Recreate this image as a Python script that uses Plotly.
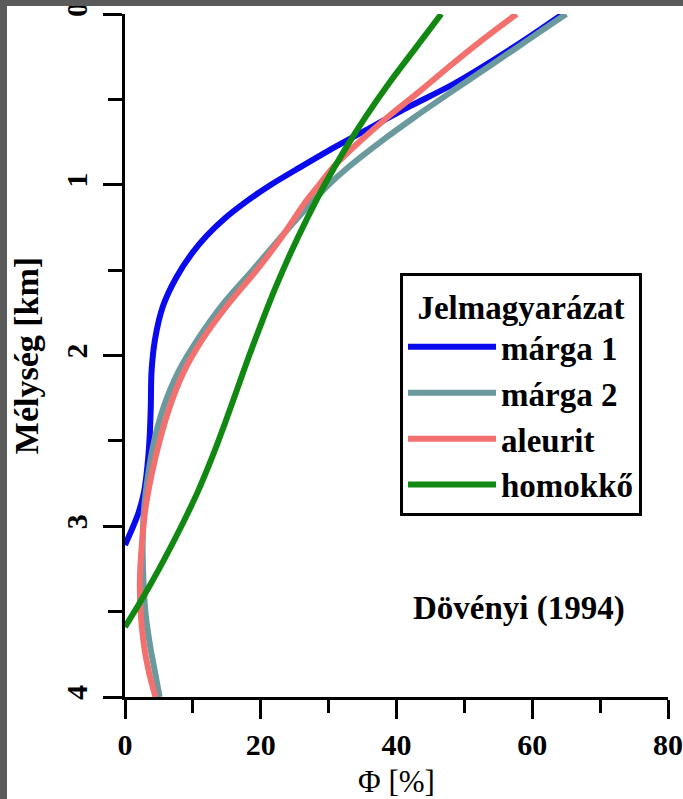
import plotly.graph_objects as go

# Porosity (%) versus depth (km) compaction curves
names = ["márga 1", "márga 2", "aleurit", "homokkő"]
colors = ["#0a0aee", "#6b9a9e", "#f2706e", "#118811"]

marga1_depth = [0.0, 0.17, 0.41, 0.54, 0.68, 0.8, 0.9, 1.0, 1.1, 1.2, 1.3, 1.4, 1.54,
                1.71, 1.91, 2.10, 2.30, 2.50, 2.65, 2.80, 2.92, 3.02, 3.11]
marga1_phi = [64.5, 58.2, 48.4, 42.0, 35.5, 30.0, 25.7, 21.5, 17.8, 14.6, 12.0, 9.9, 7.6,
              5.6, 4.4, 3.9, 3.8, 3.6, 3.3, 2.8, 2.0, 1.0, 0.0]

marga2_depth = [0.0, 0.1, 0.2, 0.3, 0.45, 0.6, 0.75, 0.9, 1.0, 1.1, 1.2, 1.3, 1.5,
                1.7, 1.9, 2.1, 2.3, 2.5, 2.7, 2.9, 3.1, 3.3, 3.5, 3.7, 3.85, 4.0]
marga2_phi = [65.0, 61.3, 57.6, 53.9, 48.3, 42.8, 37.6, 32.8, 30.0, 27.6, 25.3, 23.1, 18.8,
              14.4, 10.8, 7.8, 5.7, 4.3, 3.4, 2.8, 2.6, 2.7, 3.0, 3.7, 4.4, 5.1]

aleurit_depth = [0.0, 0.15, 0.3, 0.45, 0.6, 0.75, 0.9, 1.0, 1.1, 1.2, 1.3, 1.5,
                 1.7, 1.9, 2.1, 2.3, 2.5, 2.7, 2.9, 3.1, 3.3, 3.5, 3.7, 3.85, 4.0]
aleurit_phi = [57.7, 52.7, 48.0, 43.5, 38.8, 34.5, 30.6, 28.6, 26.6, 24.9, 23.2, 19.4,
               15.2, 11.5, 8.6, 6.6, 5.1, 3.9, 3.0, 2.5, 2.2, 2.3, 2.8, 3.5, 4.5]

homokko_depth = [0.0, 0.2, 0.4, 0.6, 0.8, 1.0, 1.2, 1.4, 1.6, 1.8, 2.0, 2.2, 2.4,
                 2.6, 2.8, 3.0, 3.2, 3.4, 3.59]
homokko_phi = [46.6, 42.8, 39.0, 35.5, 32.3, 29.4, 26.8, 24.4, 22.2, 20.2, 18.3, 16.5, 14.7,
               12.8, 10.7, 8.3, 5.7, 2.9, 0.0]

series = [
    (marga1_phi, marga1_depth),
    (marga2_phi, marga2_depth),
    (aleurit_phi, aleurit_depth),
    (homokko_phi, homokko_depth),
]

x_ticks = [0, 20, 40, 60, 80]
y_ticks = [0, 1, 2, 3, 4]
source_note = "Dövényi (1994)"

SERIF = "Liberation Serif"
W, H = 683, 799
ML, MR, MT, MB = 125, 15, 14, 102
PW, PH = W - ML - MR, H - MT - MB

fig = go.Figure()
for name, color, (phi, depth) in zip(names, colors, series):
    fig.add_trace(go.Scatter(
        x=phi, y=depth, mode="lines", name=name,
        line=dict(color=color, width=6, shape="spline", smoothing=0.8),
    ))

axis_common = dict(
    automargin=False,
    showline=True, linecolor="black", linewidth=3,
    ticks="outside", ticklen=19, tickwidth=3, tickcolor="black",
    showgrid=False, zeroline=False,
    tickfont=dict(family=SERIF, size=30, color="black", weight="bold"),
)

fig.update_xaxes(
    range=[0, 80], tickvals=x_ticks,
    minor=dict(dtick=10, tick0=0, ticks="outside", ticklen=13, tickwidth=3, tickcolor="black"),
    title=dict(text="Φ [%]", font=dict(family=SERIF, size=31, color="black"), standoff=18),
    **axis_common,
)
fig.update_yaxes(
    range=[4, 0], tickvals=y_ticks, tickangle=-90, ticklabelstandoff=4,
    minor=dict(dtick=0.5, tick0=0, ticks="outside", ticklen=14, tickwidth=3, tickcolor="black"),
    title=dict(text="Mélység [km]", font=dict(family=SERIF, size=34, color="black", weight="bold"),
               standoff=12),
    **axis_common,
)

fig.add_annotation(
    x=58, y=3.48, xref="x", yref="y", text=source_note, showarrow=False,
    font=dict(family=SERIF, size=33, color="black", weight="bold"),
)

# dark frame strips along the top and left edges of the page
gray = "#5a5a5a"
fig.add_shape(type="rect", xref="paper", yref="paper", layer="above",
              x0=-ML / PW, x1=(7 - ML) / PW, y0=-MB / PH, y1=1 + MT / PH,
              fillcolor=gray, line=dict(width=0))
fig.add_shape(type="rect", xref="paper", yref="paper", layer="above",
              x0=-ML / PW, x1=1 + MR / PW, y0=1 + (MT - 6) / PH, y1=1 + MT / PH,
              fillcolor=gray, line=dict(width=0))

fig.update_layout(
    width=W, height=H,
    margin=dict(l=ML, r=MR, t=MT, b=MB, autoexpand=False),
    paper_bgcolor="white", plot_bgcolor="white",
    showlegend=True,
    legend=dict(
        x=(400 - ML) / PW, y=1 - (273 - MT) / PH, xanchor="left", yanchor="top",
        bgcolor="white", bordercolor="black", borderwidth=3,
        font=dict(family=SERIF, size=33, color="black", weight="bold"),
        title=dict(text="Jelmagyarázat", side="top center",
                   font=dict(family=SERIF, size=33, color="black", weight="bold")),
        itemwidth=88, tracegroupgap=0,
    ),
)

fig.write_html("out.html")
